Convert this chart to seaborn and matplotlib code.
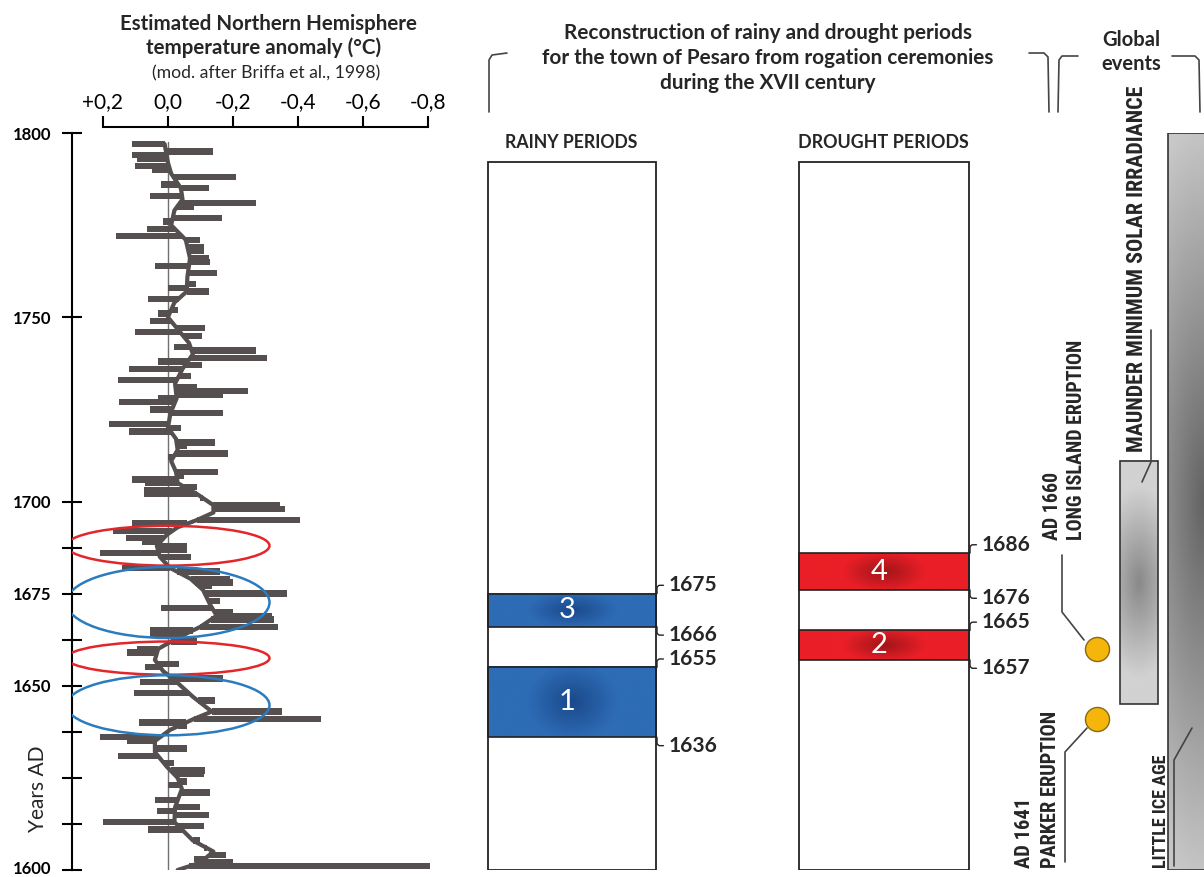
import numpy as np
import pandas as pd
import matplotlib
matplotlib.use("Agg")
import matplotlib.pyplot as plt
import seaborn as sns
from matplotlib import font_manager as fm
from matplotlib.patches import Ellipse
from matplotlib.colors import LinearSegmentedColormap
from matplotlib.transforms import ScaledTranslation

# smoothed NH temperature anomaly
smooth_years = [1600, 1602, 1605, 1608, 1613, 1617, 1622, 1625, 1628, 1632, 1635, 1638,
                1641, 1643, 1647, 1651, 1654, 1657, 1660, 1663, 1666, 1669, 1672, 1676,
                1679, 1682, 1685, 1688, 1691, 1693, 1695, 1697, 1699, 1702, 1705, 1708,
                1711, 1714, 1717, 1720, 1724, 1728, 1732, 1736, 1740, 1743, 1747, 1750,
                1754, 1757, 1761, 1766, 1771, 1775, 1779, 1782, 1785, 1789, 1792, 1797]
smooth_vals = [-0.03, -0.10, -0.14, -0.077, -0.02, -0.022, -0.043, -0.03, 0.003, 0.04, 0.04, -0.006,
               -0.08, -0.135, -0.077, -0.027, 0.015, 0.04, 0.03, -0.03, -0.10, -0.15, -0.13, -0.108,
               -0.07, -0.006, 0.025, 0.034, 0.003, -0.03, -0.09, -0.14, -0.14, -0.09, -0.03, -0.025,
               -0.01, -0.03, -0.025, 0.0, -0.008, -0.027, -0.022, -0.045, -0.077, -0.065, -0.028, 0.0,
               -0.02, -0.058, -0.06, -0.068, -0.055, -0.01, -0.02, -0.045, -0.04, -0.01, 0.0, 0.01]

# annual anomalies (visible bars)
bar_years = [1797, 1795, 1794, 1793, 1791, 1790, 1788, 1786, 1785, 1783, 1781, 1780, 1777, 1776,
             1774, 1772, 1771, 1769, 1768, 1766, 1765, 1764, 1762, 1759, 1758, 1757, 1755, 1752,
             1751, 1749, 1747, 1746, 1745, 1742, 1741, 1739, 1738, 1737, 1736, 1734, 1733, 1731,
             1730, 1729, 1728, 1727, 1725, 1724, 1722, 1721, 1720, 1719, 1716, 1715, 1713, 1712,
             1708, 1707, 1706, 1705, 1704, 1703, 1702, 1701, 1699, 1698, 1695, 1694, 1692, 1690,
             1689, 1688, 1687, 1686, 1685, 1682, 1681, 1679, 1678, 1677, 1675, 1673, 1671, 1670,
             1669, 1668, 1666, 1665, 1664, 1662, 1660, 1659, 1656, 1655, 1652, 1651, 1648, 1646,
             1643, 1641, 1640, 1639, 1636, 1635, 1633, 1631, 1629, 1627, 1626, 1624, 1623, 1621,
             1619, 1617, 1616, 1615, 1613, 1612, 1611, 1608, 1606, 1605, 1604, 1603, 1602, 1601]
bar_vals = [0.11, -0.14, 0.11, 0.095, 0.10, 0.05, -0.21, 0.02, -0.125, 0.055, -0.27, -0.08, -0.165, 0.015,
            0.065, 0.16, -0.10, -0.11, -0.11, -0.125, -0.13, 0.04, -0.15, -0.085, 0.0, -0.125, 0.06, -0.03,
            0.03, 0.055, -0.115, 0.10, -0.105, -0.02, -0.27, -0.305, 0.03, -0.105, 0.12, -0.07, 0.155, -0.09,
            -0.245, -0.17, 0.03, 0.15, 0.055, -0.17, 0.0, 0.18, -0.04, 0.12, -0.145, -0.06, -0.185, 0.0,
            -0.155, -0.05, 0.11, 0.07, -0.09, 0.075, 0.075, -0.10, -0.345, -0.36, -0.405, 0.11, 0.17, 0.13,
            0.08, -0.06, -0.06, 0.21, -0.07, 0.14, -0.16, -0.19, -0.20, -0.135, -0.365, -0.16, 0.02, -0.20,
            -0.32, -0.325, -0.34, 0.055, 0.055, -0.09, 0.095, 0.125, -0.035, 0.07, -0.17, 0.085, 0.105, -0.145,
            -0.35, -0.47, 0.09, -0.06, 0.21, 0.125, -0.06, 0.155, -0.02, -0.115, -0.11, -0.06, 0.0, -0.13,
            0.04, -0.10, 0.035, -0.125, 0.20, -0.11, 0.06, -0.10, -0.11, -0.14, -0.18, -0.08, -0.20, -0.805]

# highlighted intervals on the temperature curve: (centre year, span in years, colour)
ellipse_years = [1688, 1672.6, 1657.5, 1644.7]
ellipse_spans = [10.8, 19.3, 9.0, 16.3]
ellipse_kinds = ["drought", "rainy", "drought", "rainy"]

rainy_periods = [(1636, 1655, "1"), (1666, 1675, "3")]
drought_periods = [(1657, 1665, "2"), (1676, 1686, "4")]
box_top_year = 1792

maunder = (1645, 1711)
little_ice_age = (1600, 1800)
eruption_years = [1660, 1641]

temp_ticks = [0.2, 0.0, -0.2, -0.4, -0.6, -0.8]
temp_labels = ["+0,2", "0,0", "-0,2", "-0,4", "-0,6", "-0,8"]
year_major = [1600, 1650, 1675, 1700, 1750, 1800]
year_minor = [1612.5, 1625, 1637.5, 1662.5, 1687.5]


def pick_font(names):
    for n in names:
        try:
            fm.findfont(fm.FontProperties(family=n), fallback_to_default=False)
            return n
        except ValueError:
            pass
    return "DejaVu Sans"


sns.set_theme(style="white")
plt.rcParams["font.family"] = ["Lato", "DejaVu Sans"]
NARROW = [pick_font(["DejaVu Sans Condensed", "Liberation Sans Narrow", "Roboto Condensed",
                     "Roboto"]), "DejaVu Sans"]

W, H = 1204, 877
fig = plt.figure(figsize=(W / 100, H / 100), dpi=100)


def fbox(x0, x1, y_top=133, y_bot=870):
    return [x0 / W, 1 - y_bot / H, (x1 - x0) / W, (y_bot - y_top) / H]


GRAY = "#554f4f"
RED = "#e3262b"
BLUE = "#2b7bbf"

# ---------- temperature panel ----------
ax_t = fig.add_axes(fbox(72, 440))
df_s = pd.DataFrame({"year": smooth_years, "anom": smooth_vals})
base = np.interp(bar_years, smooth_years, smooth_vals)
vals = np.array(bar_vals)
ax_t.barh(bar_years, vals - base, left=base, height=1.7, color=GRAY, linewidth=0)
sns.lineplot(data=df_s, x="anom", y="year", orient="y", sort=True, estimator=None,
             color=GRAY, lw=3, ax=ax_t)
ax_t.plot([0, 0], [1599, 1797.5], color="#707070", lw=1, zorder=0)
for yc, span, kind in zip(ellipse_years, ellipse_spans, ellipse_kinds):
    ax_t.add_patch(Ellipse((0.0, yc), 0.625, span, fill=False,
                           edgecolor=RED if kind == "drought" else BLUE, lw=1.8, zorder=5))
ax_t.set_xlim(0.295, -0.837)
ax_t.set_ylim(1600, 1800)
ax_t.set_xlabel("")
ax_t.set_ylabel("")
ax_t.xaxis.tick_top()
ax_t.set_xticks(temp_ticks)
ax_t.set_xticklabels(temp_labels)
ax_t.set_yticks(year_major)
ax_t.set_yticklabels([str(y) for y in year_major], fontweight="bold")
ax_t.set_yticks(year_minor, minor=True)
ax_t.tick_params(axis="y", which="both", direction="inout", length=14, width=1.5,
                 left=True, pad=8, colors="black", labelsize=12)
ax_t.tick_params(axis="x", direction="out", length=8, width=1.5, top=True, pad=3,
                 labelsize=15, colors="black")
for s in ["right", "bottom"]:
    ax_t.spines[s].set_visible(False)
ax_t.spines["top"].set_bounds(-0.8, 0.2)
ax_t.spines["top"].set_position(("outward", 4.3))
ax_t.spines["top"].set_linewidth(1.5)
ax_t.spines["left"].set_linewidth(1.5)
ax_t.spines["top"].set_color("black")
ax_t.spines["left"].set_color("black")
low = ax_t.get_yticklabels()[0]
low.set_transform(low.get_transform() + ScaledTranslation(0, 3 / 100, fig.dpi_scale_trans))
ax_t.text(-0.092, 1622, "Years AD", transform=ax_t.get_yaxis_transform(), rotation=90,
          ha="center", va="center", fontsize=15)


def grad(ax, x0, x1, y0, y1, c_center, c_edge, sx=1.0, sy=1.0, zorder=2):
    xx, yy = np.meshgrid(np.linspace(-1, 1, 80), np.linspace(-1, 1, 80))
    r = np.clip(np.sqrt((xx / sx) ** 2 + (yy / sy) ** 2), 0, 1)
    cmap = LinearSegmentedColormap.from_list("g", [c_center, c_edge])
    ax.imshow(r, cmap=cmap, extent=(x0, x1, y0, y1), aspect="auto", origin="lower",
              interpolation="bilinear", zorder=zorder)


# ---------- rainy / drought panels ----------
def period_panel(x0, x1, periods, c_center, c_edge, sx):
    ax = fig.add_axes(fbox(x0, x1))
    ax.bar(0.5, box_top_year - 1600, bottom=1600, width=1, fill=False,
           edgecolor="#222222", lw=1.3, zorder=4)
    for start, end, lab in periods:
        grad(ax, 0, 1, start, end, c_center, c_edge, sx=sx, sy=1.1)
        ax.bar(0.5, end - start, bottom=start, width=1, fill=False,
               edgecolor="#222222", lw=1.2, zorder=4)
        ax.text(0.47, (start + end) / 2, lab, color="white", fontsize=21,
                ha="center", va="center", zorder=5)
        for yr, dy in [(end, 6), (start, -6)]:
            ax.annotate(str(yr), xy=(1, yr), xycoords=("axes fraction", "data"),
                        xytext=(8, dy), textcoords="offset points", ha="left", va="center",
                        fontsize=15, fontweight="bold", annotation_clip=False,
                        arrowprops=dict(arrowstyle="-", lw=1, color="#222222", shrinkA=1,
                                        shrinkB=0,
                                        connectionstyle="angle,angleA=0,angleB=90,rad=3"))
    ax.set_xlim(-0.003, 1.003)
    ax.set_ylim(1600, 1800)
    ax.axis("off")
    return ax


period_panel(487, 657, rainy_periods, "#1b4a8c", "#2e6cb6", 0.55)
period_panel(798, 970, drought_periods, "#a3151a", "#ea1f27", 0.5)

# ---------- global events panel ----------
ax_g = fig.add_axes(fbox(1010, 1204))
grad(ax_g, 1120, 1158, maunder[0], maunder[1], "#8a8a8a", "#d2d2d2", sx=2.2, sy=0.8)
ax_g.bar(1139, maunder[1] - maunder[0], bottom=maunder[0], width=38, fill=False,
         edgecolor="#333333", lw=1.2, zorder=4)
grad(ax_g, 1168, 1240, little_ice_age[0], little_ice_age[1], "#646464", "#c8c8c8",
     sx=2.5, sy=1.05)
ax_g.bar(1204, little_ice_age[1] - little_ice_age[0], bottom=little_ice_age[0], width=72,
         fill=False, edgecolor="#333333", lw=1.2, zorder=4)
sns.scatterplot(x=[1097] * len(eruption_years), y=eruption_years, s=300, color="#f5b50a",
                edgecolor="#8a6a10", linewidth=1, ax=ax_g, zorder=5)
ax_g.set_xlim(1010, 1204)
ax_g.set_ylim(1600, 1800)
ax_g.axis("off")

# ---------- overlay for titles, brackets and leader lines (pixel coords) ----------
ov = fig.add_axes([0, 0, 1, 1], zorder=10)
ov.set_xlim(0, W)
ov.set_ylim(H, 0)
ov.axis("off")

fitted = []
t1 = ov.text(268, 24, "Estimated Northern Hemisphere", ha="center", va="center",
             fontsize=14, fontweight="bold")
t2 = ov.text(264, 48, "temperature anomaly (°C)", ha="center", va="center",
             fontsize=14, fontweight="bold")
t3 = ov.text(266, 73, "(mod. after Briffa et al., 1998)", ha="center", va="center",
             fontsize=12)
t4 = ov.text(768, 58, "Reconstruction of rainy and drought periods\n"
             "for the town of Pesaro from rogation ceremonies\nduring the XVII century",
             ha="center", va="center", fontsize=14, fontweight="bold", linespacing=1.3)
t5 = ov.text(571, 142, "RAINY PERIODS", ha="center", va="center", fontsize=12,
             fontweight="bold")
t6 = ov.text(883, 142, "DROUGHT PERIODS", ha="center", va="center", fontsize=12,
             fontweight="bold")
t7 = ov.text(1131, 52, "Global\nevents", ha="center", va="center", fontsize=14,
             fontweight="bold", linespacing=1.3)
fitted += [(t1, 299, 0), (t3, 228, 0), (t4, 454, 0), (t5, 133, 0), (t6, 170, 0), (t7, 60, 0)]

lk = dict(color="#444444", lw=1.2)
ov.plot([489, 489, 492, 507], [112, 60, 55, 53], **lk)
ov.plot([1029, 1044, 1048, 1049], [53, 53, 57, 112], **lk)
ov.plot([1058, 1059, 1062, 1078], [112, 60, 56, 56], **lk)
ov.plot([1172, 1195, 1199, 1200], [56, 56, 60, 112], **lk)

txt = dict(rotation=90, rotation_mode="anchor", ha="left", va="center", fontsize=13,
           fontweight="bold", family=NARROW)
for x, yb, s, length in [(1053, 540, "AD 1660", 68), (1076, 540, "LONG ISLAND ERUPTION", 200),
                         (1025, 868, "AD 1641", 70), (1050, 868, "PARKER ERUPTION", 158),
                         (1137, 452, "MAUNDER MINIMUM SOLAR IRRADIANCE", 366),
                         (1161, 868, "LITTLE ICE AGE", 113)]:
    fitted.append((ov.text(x, yb, s, **txt), length, 1))

ov.plot([1062, 1062, 1084], [555, 612, 640], **lk)
ov.plot([1065, 1065, 1087], [862, 752, 728], **lk)
ov.plot([1151, 1151, 1142], [330, 462, 482], **lk)
ov.plot([1174, 1174, 1192], [866, 760, 728], **lk)

# scale the free-standing texts to the lengths they take in the original
fig.canvas.draw()
rend = fig.canvas.get_renderer()
for t, length, axis in fitted:
    bb = t.get_window_extent(rend)
    cur = bb.width if axis == 0 else bb.height
    t.set_fontsize(t.get_fontsize() * length / cur)
t2.set_fontsize(t1.get_fontsize())

fig.savefig("out.png", dpi=100)
